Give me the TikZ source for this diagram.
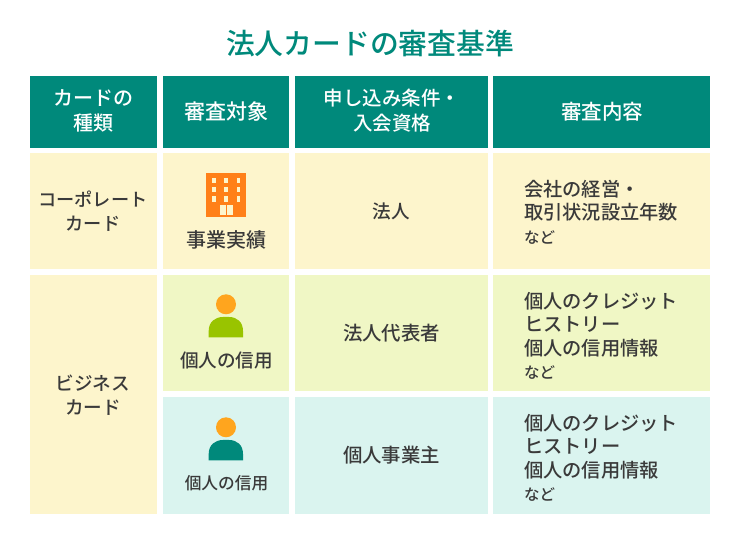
\documentclass[tikz,border=0pt]{standalone}
\usepackage{fontspec}
\setmainfont{Noto Sans CJK JP Medium}
\definecolor{headgreen}{HTML}{00897B}
\definecolor{cellyellow}{HTML}{FDF5CC}
\definecolor{celllime}{HTML}{F0F7C5}
\definecolor{cellteal}{HTML}{DAF4EF}
\definecolor{inktext}{HTML}{3A3A3A}
\definecolor{iconorange}{HTML}{FF8019}
\definecolor{iconhead}{HTML}{FFA51E}
\definecolor{iconlime}{HTML}{99C400}
\tikzset{x=1pt, y=-1pt}
\tikzset{
  headbox/.style={anchor=center, align=center, text=white, font=\fontsize{20}{25}\selectfont},
  bodytext/.style={anchor=center, align=center, text=inktext, font=\fontsize{18.6}{24}\selectfont},
  sidetext/.style={anchor=west, align=left, text=inktext, font=\fontsize{19.25}{23.5}\selectfont},
}
\newcommand{\smalltext}[1]{{\fontsize{15.5}{20}\selectfont #1}}
\begin{document}
\begin{tikzpicture}
\useasboundingbox (0,0) rectangle (740,545);
\node[anchor=center, text=headgreen, font=\fontsize{28.8}{30}\selectfont] (title) at (370,43.5) {法人カードの審査基準};
% header row
\fill[headgreen] (30,76) rectangle (157,148);
\fill[headgreen] (163,76) rectangle (289,148);
\fill[headgreen] (295,76) rectangle (488,148);
\fill[headgreen] (493,76) rectangle (710,148);
% first column
\fill[cellyellow] (30,153) rectangle (157,269);
\fill[cellyellow] (30,275) rectangle (157,514);
% body rows
\foreach \y/\h/\c in {153/269/cellyellow, 275/391/celllime, 397/514/cellteal}{
\fill[\c] (163,\y) rectangle (289,\h);
\fill[\c] (295,\y) rectangle (488,\h);
\fill[\c] (493,\y) rectangle (710,\h);}
% labels
\node[headbox] (headkind) at (93,111) {カードの\\種類};
\node[headbox, font=\fontsize{21}{25}\selectfont] (headtarget) at (226,112) {審査対象};
\node[headbox, font=\fontsize{19.5}{25}\selectfont] (headterms) at (392,111) {申し込み条件・\\入会資格};
\node[headbox, font=\fontsize{20.5}{25}\selectfont] (headitems) at (602,112) {審査内容};
\node[bodytext, font=\fontsize{18.2}{24}\selectfont] (corporate) at (93,211) {コーポレート\\カード};
\node[bodytext] (business) at (93,395) {ビジネス\\カード};
\node[bodytext, font=\fontsize{20}{24}\selectfont] (results) at (226,240) {事業実績};
\node[bodytext] (credit1) at (226.5,360.5) {個人の信用};
\node[bodytext, font=\fontsize{16.7}{20}\selectfont] (credit2) at (226.5,483) {個人の信用};
\node[bodytext] (corp) at (391.5,211) {法人};
\node[bodytext, font=\fontsize{19.4}{24}\selectfont] (rep) at (391.5,333.5) {法人代表者};
\node[bodytext, font=\fontsize{19.4}{24}\selectfont] (sole) at (391.5,455.5) {個人事業主};
\node[sidetext] (itemscorp) at (520.7,212) {会社の経営・\\取引状況設立年数\\\smalltext{など}};
\node[sidetext] (itemsrep) at (520.7,336) {個人のクレジット\\ヒストリー\\個人の信用情報\\\smalltext{など}};
\node[sidetext] (itemssole) at (520.7,458) {個人のクレジット\\ヒストリー\\個人の信用情報\\\smalltext{など}};
% building
\fill[iconorange] (206.3,173.3) rectangle (246,216.7);
\foreach \x in {214,226,238.5}{
\foreach \y in {180.7,189.5,199}{
\fill[cellyellow] (\x-1.6,\y-2.6) rectangle (\x+1.6,\y+2.6);}}
\fill[cellyellow] (220,205.3) rectangle (225.5,214.7);
\fill[cellyellow] (226.8,205.3) rectangle (232.7,214.7);
% persons
\foreach \y/\c in {0/iconlime, 123/headgreen}{
\fill[iconhead] (226,304.3+\y) circle (10);
\fill[\c] (208.7,337.3+\y) -- (208.7,331+\y) .. controls (208.7,322+\y) and (215,317+\y) .. (223,317+\y) -- (229,317+\y) .. controls (237,317+\y) and (243,322+\y) .. (243,331+\y) -- (243,337.3+\y) -- cycle;}
\end{tikzpicture}
\end{document}
